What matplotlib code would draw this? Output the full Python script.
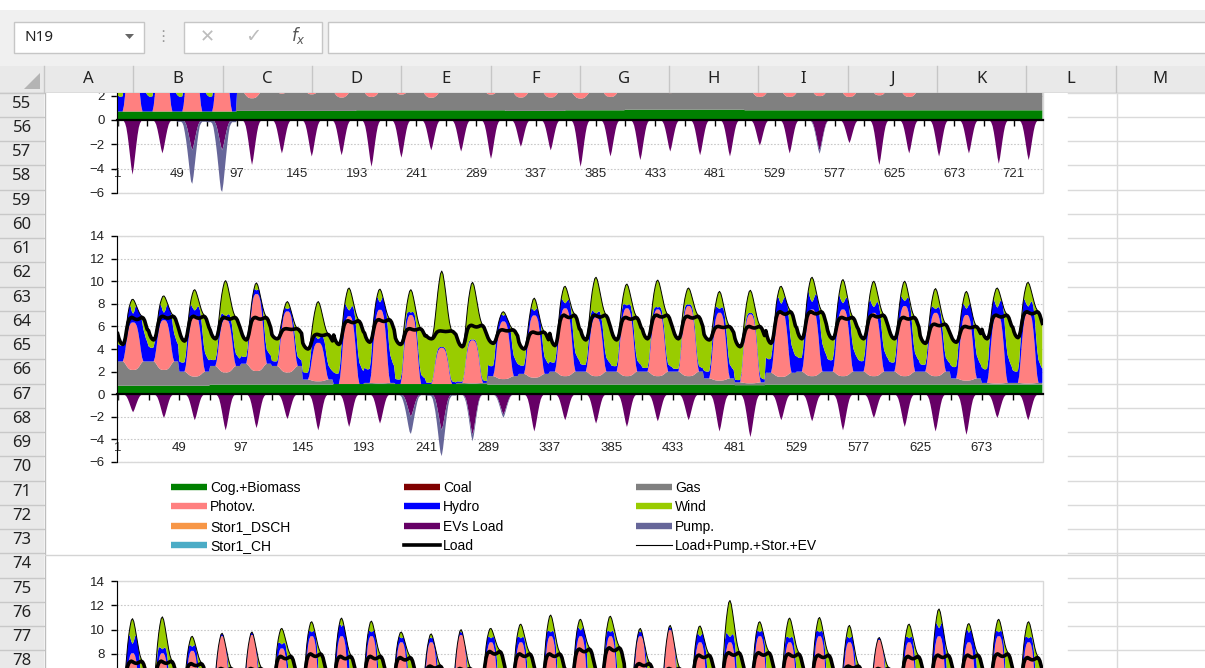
import numpy as np
import matplotlib.pyplot as plt
from matplotlib.lines import Line2D
from matplotlib.patches import Rectangle, Polygon

W, H = 1205, 668

# typical 24 h profiles (hour 1..24), read off the daily humps
LOAD_SHAPE = [0.4, 0.22, 0.1, 0.03, 0.0, 0.05, 0.25, 0.55, 0.8, 0.93, 0.98, 1.0,
              0.98, 0.95, 0.93, 0.92, 0.93, 0.95, 0.98, 1.0, 0.97, 0.88, 0.72, 0.55]
PV_SHAPE = [0, 0, 0, 0, 0, 0.1, 0.3, 0.55, 0.75, 0.9, 0.97, 1.0,
            1.0, 1.0, 0.97, 0.9, 0.75, 0.55, 0.3, 0.1, 0, 0, 0, 0]
EV_SHAPE = [0, 0, 0, 0, 0, 0.02, 0.06, 0.14, 0.28, 0.46, 0.66, 0.86,
            1.0, 0.86, 0.66, 0.46, 0.28, 0.14, 0.06, 0.02, 0, 0, 0, 0]
TOP_SHAPE = [0, 0, 0, 0, 0, 0.05, 0.15, 0.3, 0.48, 0.66, 0.82, 0.95,
             1.0, 0.95, 0.82, 0.66, 0.48, 0.3, 0.15, 0.05, 0, 0, 0, 0]
HYDRO_SHAPE = [0.45, 0.42, 0.4, 0.4, 0.42, 0.5, 0.7, 0.9, 1.0, 0.75, 0.45, 0.28,
               0.22, 0.28, 0.45, 0.65, 0.85, 1.0, 1.0, 0.92, 0.82, 0.7, 0.58, 0.5]
PUMP_SHAPE = [0.05, 0.05, 0.05, 0.05, 0.08, 0.15, 0.3, 0.45, 0.6, 0.75, 0.9, 1.0,
              0.95, 0.85, 0.7, 0.55, 0.4, 0.25, 0.12, 0.08, 0.05, 0.05, 0.05, 0.05]
GAS_NOON_CUT = 0.35

# ---- chart 1 (31 days, only the lower strip is visible)
c1_top = [8.5, 8.8, 9.0, 9.5, 9.3, 8.6, 9.0, 9.2, 9.8, 9.3, 8.8, 9.0, 9.4, 8.5, 8.8, 9.8,
          9.2, 9.3, 8.9, 9.1, 9.2, 8.6, 9.0, 8.8, 8.4, 9.7, 9.0, 9.2, 9.0, 9.6, 9.5]
c1_load_min = [4.6, 4.7, 4.7, 4.8, 4.7, 4.5, 4.2, 4.6, 4.7, 4.7, 4.7, 4.5, 4.3, 4.2, 4.6, 4.7,
               4.7, 4.7, 4.7, 4.5, 4.2, 4.6, 4.7, 4.7, 4.7, 4.7, 4.5, 4.2, 4.6, 4.7, 4.7]
c1_load_max = [6.5, 6.6, 6.6, 6.7, 6.5, 5.8, 5.4, 6.5, 6.6, 6.6, 6.5, 6.4, 5.8, 5.4, 6.6, 6.7,
               6.6, 6.6, 6.5, 5.8, 5.4, 6.6, 6.7, 6.6, 6.6, 6.5, 5.8, 5.4, 6.6, 6.7, 6.6]
c1_cog = [0.7, 0.7, 0.7, 0.7, 0.75, 0.75, 0.75, 0.75, 0.8, 0.8, 0.8, 0.8, 0.8, 0.75, 0.75, 0.8,
          0.8, 0.85, 0.85, 0.85, 0.85, 0.8, 0.8, 0.8, 0.8, 0.8, 0.8, 0.8, 0.8, 0.8, 0.8]
c1_gas = [0.0, 0.0, 0.0, 0.0, 1.6, 2.2, 2.1, 1.7, 1.7, 2.0, 1.6, 2.2, 2.0, 1.7, 1.7, 1.5,
          1.7, 2.2, 2.1, 2.2, 2.2, 1.7, 1.7, 1.8, 1.7, 1.9, 1.7, 2.4, 2.4, 2.4, 2.4]
c1_pv = [4.5, 4.8, 5.0, 5.0, 5.2, 5.0, 4.6, 5.4, 5.6, 5.2, 5.0, 4.8, 5.3, 5.5, 5.6, 5.4,
         5.6, 5.2, 5.4, 5.5, 5.3, 5.6, 5.5, 5.4, 5.6, 5.2, 5.5, 5.0, 5.2, 5.4, 5.3]
c1_hydro = [3.0, 3.0, 3.0, 3.0, 1.5, 1.2, 1.2, 1.5, 1.8, 1.5, 1.2, 1.0, 1.5, 1.8, 1.6, 2.0,
            1.5, 1.2, 1.2, 1.2, 1.0, 1.5, 1.5, 1.5, 1.8, 1.5, 1.5, 1.0, 1.0, 1.2, 1.2]
c1_ev = [4.5, 2.75, 2.5, 2.5, 3.7, 2.75, 3.0, 2.9, 3.85, 3.1, 2.5, 2.6, 3.2, 2.2, 2.5, 3.85,
         3.0, 3.3, 2.6, 2.9, 3.0, 2.1, 2.75, 2.5, 1.9, 3.7, 2.75, 3.0, 2.75, 3.6, 3.3]
c1_pump = [0.0, 0.0, 2.9, 3.6, 0.0, 0.0, 0.0, 0.0, 0.0, 0.0, 0.0, 0.0, 0.0, 0.0, 0.0, 0.0,
           0.0, 0.0, 0.0, 0.0, 0.0, 0.0, 0.0, 0.3, 0.0, 0.0, 0.0, 0.0, 0.0, 0.0, 0.0]

# ---- chart 2 (30 days, fully visible)
c2_top = [8.4, 8.7, 9.25, 10.05, 9.85, 8.2, 8.2, 9.4, 9.3, 9.25, 10.9, 9.9, 7.3, 8.5, 9.55,
          10.35, 9.75, 10.1, 9.4, 9.1, 9.2, 9.55, 10.35, 10.15, 10.0, 10.0, 9.35, 9.1, 9.4, 9.9]
c2_load_min = [4.4, 4.8, 4.7, 4.9, 4.8, 4.9, 4.0, 4.4, 4.6, 4.4, 4.9, 4.2, 4.5, 4.0, 4.3,
               4.8, 4.8, 4.9, 4.9, 4.8, 4.2, 4.5, 4.9, 4.9, 4.9, 4.9, 4.5, 4.6, 4.9, 5.0]
c2_load_max = [6.8, 6.9, 6.9, 6.8, 6.8, 5.8, 5.3, 6.5, 6.6, 5.8, 5.6, 6.1, 5.7, 5.5, 7.0,
               7.0, 6.8, 7.0, 6.9, 6.0, 6.0, 7.3, 7.3, 6.8, 7.0, 6.8, 6.2, 6.0, 7.0, 7.3]
c2_cog = [0.75, 0.75, 0.75, 0.85, 0.85, 0.85, 0.85, 0.9, 0.9, 0.9, 0.9, 0.9, 0.85, 0.85, 0.85,
          0.85, 0.85, 0.85, 0.85, 0.85, 0.8, 0.85, 0.85, 0.85, 0.85, 0.85, 0.85, 0.85, 0.85, 0.85]
c2_gas = [2.15, 2.15, 1.25, 1.65, 1.85, 1.65, 0.45, 0.0, 0.1, 0.0, 0.0, 0.1, 0.75, 0.95, 1.15,
          1.15, 1.15, 1.15, 1.15, 0.55, 0.25, 1.05, 1.15, 1.15, 1.15, 1.15, 1.15, 0.55, 0.15, 0.15]
c2_pv = [4.2, 4.4, 5.4, 4.7, 6.8, 5.4, 3.4, 6.0, 6.5, 6.1, 3.2, 3.8, 5.1, 5.5, 6.0,
         5.2, 6.0, 5.9, 6.2, 6.0, 6.1, 5.8, 5.9, 5.9, 5.6, 6.2, 5.6, 5.8, 6.05, 6.25]
c2_hydro = [3.5, 3.0, 2.0, 1.3, 1.5, 1.0, 1.5, 2.3, 3.0, 1.0, 0.3, 0.3, 2.2, 1.8, 2.0,
            1.5, 1.2, 0.8, 0.6, 1.5, 0.5, 3.0, 3.0, 2.5, 2.3, 2.0, 1.5, 2.5, 3.0, 2.5]
c2_ev = [1.6, 2.1, 2.3, 3.2, 3.0, 2.2, 3.2, 2.9, 2.6, 2.0, 3.2, 3.6, 1.8, 3.3, 2.3,
         2.6, 2.9, 2.4, 2.3, 3.3, 3.8, 2.3, 2.4, 3.2, 2.1, 2.9, 3.3, 3.6, 2.1, 2.3]
c2_pump = [0.0, 0.0, 0.0, 0.0, 0.0, 0.0, 0.0, 0.0, 0.0, 1.6, 2.4, 0.6, 0.3, 0.0, 0.0,
           0.0, 0.0, 0.0, 0.0, 0.0, 0.0, 0.0, 0.0, 0.0, 0.0, 0.0, 0.0, 0.0, 0.0, 0.0]

# ---- chart 3 (31 days, only the upper part is visible)
c3_top = [10.9, 11.05, 9.45, 9.7, 9.8, 10.1, 10.65, 10.95, 10.7, 9.8, 9.65, 10.0, 10.1, 10.45, 11.2, 10.85,
          11.1, 10.1, 10.35, 10.3, 12.4, 10.65, 10.95, 11.0, 10.35, 9.35, 10.45, 11.7, 10.5, 10.85, 10.65]
c3_load_min = [5.2, 5.2, 5.1, 4.8, 4.8, 5.3, 5.4, 5.3, 5.3, 5.2, 4.9, 4.8, 5.5, 5.4, 5.4, 5.6,
               5.6, 5.0, 4.8, 5.4, 5.5, 5.5, 5.4, 5.4, 5.0, 4.8, 5.3, 5.4, 5.4, 5.4, 5.3]
c3_load_max = [7.4, 7.4, 7.2, 6.8, 6.8, 7.8, 8.0, 7.8, 7.8, 7.7, 7.0, 6.8, 8.2, 8.0, 8.0, 8.4,
               8.5, 7.2, 6.8, 7.9, 8.1, 8.1, 8.0, 7.9, 7.0, 6.8, 7.8, 7.9, 7.9, 8.0, 7.7]
c3_cog = [0.8] * 31
c3_gas = [1.0] * 31
c3_pv = [6.6, 6.6, 6.8, 8.0, 8.1, 7.0, 8.0, 8.0, 8.0, 7.5, 7.5, 8.1, 7.5, 7.5, 8.0, 8.0,
         8.0, 8.0, 8.5, 7.5, 7.5, 8.0, 7.5, 8.0, 7.5, 7.7, 7.5, 8.0, 7.5, 8.0, 7.5]
c3_hydro = [3.5, 1.5, 1.5, 1.0, 1.0, 1.5, 1.5, 3.5, 1.5, 1.5, 1.5, 1.0, 1.5, 1.5, 1.5, 2.2,
            1.5, 1.5, 1.0, 2.2, 2.0, 1.5, 1.5, 1.5, 1.5, 1.0, 1.5, 3.0, 3.5, 1.5, 1.5]
c3_ev = [3.5, 3.6, 2.3, 2.9, 3.0, 2.3, 2.7, 3.2, 2.9, 2.1, 2.7, 3.2, 1.9, 2.5, 3.2, 2.5,
         2.6, 2.9, 3.5, 2.4, 4.3, 2.6, 3.0, 3.1, 3.4, 2.6, 2.7, 3.8, 2.6, 2.9, 3.0]
c3_pump = [0.0] * 31

SERIES = ['Cog.+Biomass', 'Coal', 'Gas', 'Photov.', 'Hydro', 'Wind', 'Stor1_DSCH',
          'EVs Load', 'Pump.', 'Stor1_CH', 'Load', 'Load+Pump.+Stor.+EV']
COLORS = {'Cog.+Biomass': '#008000', 'Coal': '#800000', 'Gas': '#808080', 'Photov.': '#ff8080',
          'Hydro': '#0000ff', 'Wind': '#99cc00', 'Stor1_DSCH': '#f79646', 'EVs Load': '#660066',
          'Pump.': '#666699', 'Stor1_CH': '#4bacc6', 'Load': 'black', 'Load+Pump.+Stor.+EV': 'black'}


def build(top, lmin, lmax, cog, gas, pv, hydro, ev, pump):
    lmin = np.array(lmin)
    load = np.outer(np.array(lmax) - lmin, LOAD_SHAPE) + lmin[:, None]
    tot = load + np.outer(np.array(top) - load[:, 12], TOP_SHAPE)
    cog_h = np.outer(cog, np.ones(24))
    gas_h = np.outer(gas, 1 - GAS_NOON_CUT * np.array(PV_SHAPE))
    room = np.clip(tot - cog_h - gas_h, 0, None)
    pv_h = np.minimum(np.outer(pv, PV_SHAPE), room)
    hyd_h = np.minimum(np.outer(hydro, HYDRO_SHAPE), room - pv_h)
    wind_h = room - pv_h - hyd_h
    zero = np.zeros_like(load)
    pos = [cog_h, zero, gas_h, pv_h, hyd_h, wind_h, zero]
    neg = [-np.outer(ev, EV_SHAPE), -np.outer(pump, PUMP_SHAPE), zero]
    return ([p.ravel() for p in pos], [n.ravel() for n in neg], load.ravel(), tot.ravel())


def px_axes(left, top, right, bottom):
    return fig.add_axes([left / W, 1 - bottom / H, (right - left) / W, (bottom - top) / H])


def draw_chart(ax, data, yticks, xlabels=True):
    pos, neg, load, tot = data
    n = len(load)
    x = np.arange(1, n + 1)
    ax.stackplot(x, *pos, colors=[COLORS[s] for s in SERIES[:7]], lw=0, zorder=2)
    ax.stackplot(x, *neg, colors=[COLORS[s] for s in SERIES[7:10]], lw=0, zorder=2)
    ax.plot(x, load, color='black', lw=2.6, zorder=4)
    ax.plot(x, tot, color='black', lw=0.7, zorder=4)
    ax.set_xlim(0.5, n + 0.5)
    ax.set_ylim(-6, 14)
    # only the ticks that fall inside the visible part of the sheet
    ax.set_yticks(yticks)
    ax.set_axisbelow(True)
    ax.yaxis.grid(True, ls=(0, (1.5, 1.5)), color='#c8c8c8', lw=0.8)
    for s in ['top', 'right']:
        ax.spines[s].set_visible(False)
    ax.spines['left'].set_color('black')
    ax.spines['bottom'].set_position(('data', 0))
    ax.spines['bottom'].set_linewidth(1.6)
    ax.spines['bottom'].set_zorder(5)
    ax.add_patch(Rectangle((0, 0), 1, 1, transform=ax.transAxes, fill=False,
                           ec='#d9d9d9', lw=1, zorder=1, clip_on=False))
    ax.set_xticks(range(1, n + 1, 48))
    ax.set_xticks(range(25, n + 1, 48), minor=True)
    ax.tick_params(axis='x', which='both', direction='out', length=4, width=1, pad=30.5,
                   labelsize=9.5, labelcolor='#222222', labelbottom=xlabels)
    ax.tick_params(axis='y', direction='out', length=4, width=1, pad=5,
                   labelsize=9.5, labelcolor='#222222')
    ax.set_facecolor('none')


fig = plt.figure(figsize=(W / 100, H / 100), dpi=100)
plt.rcParams['font.family'] = ['Liberation Sans', 'DejaVu Sans']

# ---- sheet background
bg = fig.add_axes([0, 0, 1, 1])
bg.set_xlim(0, W)
bg.set_ylim(H, 0)
bg.axis('off')
row_top = 92.5
row_h = 24.25
bg.add_patch(Rectangle((0, row_top), 44, H - row_top, fc='#e9e9e9', ec='none'))
for k in range(25):
    y = row_top + k * row_h
    bg.plot([0, 44], [y, y], color='#c8c8c8', lw=1)
    bg.plot([1068, W], [y, y], color='#dadada', lw=1)
    if k < 24:
        bg.text(22, y + row_h / 2 - 1, str(55 + k), ha='center', va='center', fontsize=12,
                family='Noto Sans', color='#222222')
bg.plot([44.5, 44.5], [row_top, H], color='#bdbdbd', lw=1)
bg.plot([1116.5, 1116.5], [row_top, H], color='#dadada', lw=1)
bg.add_patch(Rectangle((45, row_top), 1068 - 45, H - row_top, fc='white', ec='none'))
bg.plot([45, W], [554.5, 554.5], color='#d4d4d4', lw=1)

# ---- charts
ax1 = px_axes(117, 120 - 14 * 12.15, 1043, 120 + 6 * 12.15)
draw_chart(ax1, build(c1_top, c1_load_min, c1_load_max, c1_cog, c1_gas, c1_pv, c1_hydro, c1_ev, c1_pump),
           range(-6, 3, 2))
ax2 = px_axes(117, 236, 1043, 462)
draw_chart(ax2, build(c2_top, c2_load_min, c2_load_max, c2_cog, c2_gas, c2_pv, c2_hydro, c2_ev, c2_pump),
           range(-6, 15, 2))
ax3 = px_axes(117, 581, 1043, 581 + 20 * 12.15)
draw_chart(ax3, build(c3_top, c3_load_min, c3_load_max, c3_cog, c3_gas, c3_pv, c3_hydro, c3_ev, c3_pump),
           range(8, 15, 2), xlabels=False)

# ---- legend of chart 2, three columns filled row-wise
handles = {}
for s in SERIES[:10]:
    handles[s] = Line2D([0], [0], color=COLORS[s], lw=4.6, solid_capstyle='butt')
handles['Load'] = Line2D([0], [0], color='black', lw=2.6)
handles['Load+Pump.+Stor.+EV'] = Line2D([0], [0], color='black', lw=0.8)
for col, x0 in enumerate([171, 404, 636]):
    names = SERIES[col::3]
    fig.legend([handles[s] for s in names], names, loc='upper left',
               bbox_to_anchor=(x0 / W, 1 - 481 / H), frameon=False, fontsize=10,
               handlelength=2.6, handletextpad=0.2, labelspacing=0.38,
               borderpad=0, borderaxespad=0)

# ---- Excel header (formula bar + column letters) on top
hdr = px_axes(0, 0, W, 93)
hdr.set_xlim(0, W)
hdr.set_ylim(93, 0)
hdr.axis('off')
hdr.add_patch(Rectangle((0, 0), W, 93, fc='#f0f0f0', ec='none'))
hdr.add_patch(Rectangle((0, 0), W, 10, fc='white', ec='none'))
hdr.add_patch(Rectangle((13.5, 21.5), 130, 31, fc='white', ec='#c6c6c6', lw=1))
hdr.text(24, 37.5, 'N19', ha='left', va='center', fontsize=11, family='Noto Sans', color='#222222')
hdr.add_patch(Polygon([(125, 34), (134, 34), (129.5, 39)], closed=True, fc='#666666', ec='none'))
hdr.text(163, 37, '⋮', ha='center', va='center', fontsize=11, family='DejaVu Sans', color='#9a9a9a')
hdr.add_patch(Rectangle((183.5, 21.5), 138, 31, fc='white', ec='#c6c6c6', lw=1))
hdr.text(207, 37, '✕', ha='center', va='center', fontsize=13, family='DejaVu Sans', color='#bdbdbd')
hdr.text(253, 37, '✓', ha='center', va='center', fontsize=14, family='DejaVu Sans', color='#bdbdbd')
hdr.text(298, 36, r'$f_x$', ha='center', va='center', fontsize=12, color='#555555')
hdr.add_patch(Rectangle((327.5, 21.5), 900, 31, fc='white', ec='#c6c6c6', lw=1))
hdr.add_patch(Rectangle((0, 65.5), W, 27, fc='#e9e9e9', ec='none'))
hdr.plot([0, W], [92.5, 92.5], color='#ababab', lw=1)
hdr.add_patch(Polygon([(24, 89), (40, 89), (40, 73)], closed=True, fc='#b4b4b4', ec='none'))
col_w = (W - 44) / 13
for i, letter in enumerate('ABCDEFGHIJKLM'):
    xb = 44 + i * col_w
    hdr.plot([xb, xb], [66, 92], color='#c6c6c6', lw=1)
    hdr.text(xb + col_w / 2, 79, letter, ha='center', va='center', fontsize=12,
             family='Noto Sans', color='#222222')

fig.savefig('out.png', dpi=100)
